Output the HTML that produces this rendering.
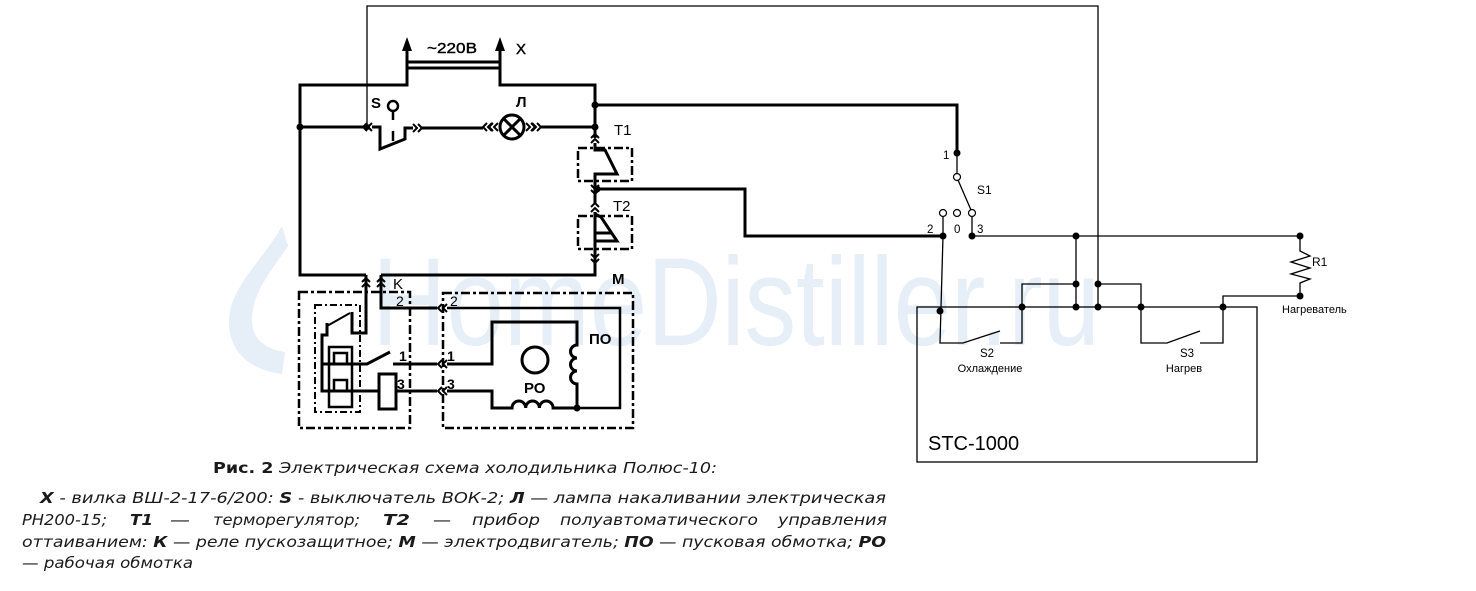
<!DOCTYPE html>
<html><head><meta charset="utf-8">
<style>html,body{margin:0;padding:0;background:#fff}svg{display:block}</style>
</head><body>
<svg width="1476" height="591" viewBox="0 0 1476 591" xmlns="http://www.w3.org/2000/svg">
<defs>
<g id="cu" fill="none" stroke="#000" stroke-width="2"><polyline points="-4,4 0,0 4,4"/><polyline points="-4,9 0,5 4,9"/></g>
<g id="cd" fill="none" stroke="#000" stroke-width="2"><polyline points="-4,-4 0,0 4,-4"/><polyline points="-4,-9 0,-5 4,-9"/></g>
<g id="cl" fill="none" stroke="#000" stroke-width="2"><polyline points="4,-4 0,0 4,4"/><polyline points="9,-4 5,0 9,4"/></g>
<g id="cr" fill="none" stroke="#000" stroke-width="2"><polyline points="-4,-4 0,0 -4,4"/><polyline points="-9,-4 -5,0 -9,4"/></g>
</defs>
<rect width="1476" height="591" fill="#fff"/>

<!-- watermark -->
<path d="M282,226 C262,262 229,287 229,322 C229,352 250,370 282,374 L285,352 C264,349 252,338 252,320 C252,292 272,270 288,246 Z" fill="#e6eef7"/>
<text x="372" y="345" font-family="Liberation Sans, sans-serif" font-size="125" fill="#e6eef7" textLength="728" lengthAdjust="spacingAndGlyphs">HomeDistiller.ru</text>

<!-- thick wiring -->
<g fill="none" stroke="#000" stroke-width="3" stroke-linejoin="miter">
  <path d="M407,48 V85 H300 V275 H366"/>
  <path d="M500,48 V85 H595 V138"/>
  <path d="M407,62 H500 M407,68 H500"/>
  <path d="M300,127 H363"/>
  <path d="M372,127 H380 V149 L405,139 V128 H413"/>
  <path d="M422,128 H483"/>
  <path d="M541,127 H595"/>
  <path d="M595,105 H957 V153"/>
  <path d="M595,143 V150 H605 L617,174 H595 V192"/>
  <path d="M595,189 H745 V236 H943"/>
  <path d="M595,189 V203"/>
  <path d="M595,212 V243 M595,214 L601,217 L617,241 H595 M595,233 H611"/>
  <path d="M595,243 V262 V275 H381"/>
  <!-- relay -->
  <path d="M366,275 V333 H352 V312"/>
  <path d="M381,275 V308 H437"/>
  <path d="M327,323 V335 H322 V391 H379"/>
  <path d="M322,364 H367 L390,352"/>
  <path d="M393,364 H437"/>
  <path d="M396,391 H437"/>
  <rect x="379" y="374" width="17" height="35" fill="#fff"/>
  <path d="M329,407 V347 H352 V407 Z" stroke-width="2.5"/>
  <path d="M334,364 V353 H347 V364 M334,391 V380 H347 V391" stroke-width="2.5"/>
  <!-- motor -->
  <path d="M447,308 H620 V408 H577" stroke-width="2.5"/>
  <path d="M447,364 H492 V322 H577 V345 a6.5,6.5 0 0 0 0,13 a6.5,6.5 0 0 0 0,13 a6.5,6.5 0 0 0 0,13 V408"/>
  <path d="M447,391 H492 V408 H512 a6.85,7 0 0 1 13.7,0 a6.85,7 0 0 1 13.7,0 a6.85,7 0 0 1 13.7,0 H577"/>
  <circle cx="535" cy="360" r="13"/>
  <!-- lamp -->
  <circle cx="512" cy="127" r="12" fill="#fff"/>
  <path d="M503.5,118.5 L520.5,135.5 M520.5,118.5 L503.5,135.5"/>
</g>
<g fill="none" stroke="#000" stroke-width="2.5">
  <circle cx="393" cy="106" r="5" fill="#fff"/>
  <path d="M393,111 V120 M393,131 V141"/>
  <path d="M327,326 L350,313" stroke-width="2"/>
</g>

<!-- connectors -->
<use href="#cl" x="363" y="127"/>
<use href="#cr" x="422" y="128"/>
<use href="#cl" x="483" y="127"/><use href="#cl" x="489" y="127"/>
<use href="#cr" x="535" y="127"/><use href="#cr" x="541" y="127"/>
<use href="#cu" x="595" y="134"/>
<use href="#cd" x="595" y="194"/>
<use href="#cu" x="595" y="203"/>
<use href="#cd" x="595" y="263"/>
<use href="#cu" x="366" y="278"/><use href="#cu" x="381" y="278"/>
<use href="#cl" x="438" y="308"/><use href="#cl" x="438" y="364"/><use href="#cl" x="438" y="391"/>

<!-- arrowheads -->
<polygon points="407,37 402,51 412,51" fill="#000"/>
<polygon points="500,37 495,51 505,51" fill="#000"/>

<!-- dash-dot boxes -->
<g fill="none" stroke="#000" stroke-width="2.5" stroke-dasharray="9,3,3,3">
  <rect x="578" y="148" width="54" height="33"/>
  <rect x="578" y="216" width="54" height="33"/>
  <rect x="299" y="292" width="111" height="136"/>
  <rect x="443" y="293" width="190" height="135"/>
  <rect x="315" y="305" width="45" height="107" stroke-width="2" stroke-dasharray="7,3,2,3"/>
</g>

<!-- dots left -->
<g fill="#000">
  <circle cx="300" cy="127" r="3.5"/>
  <circle cx="367" cy="127" r="3"/>
  <circle cx="595" cy="105" r="3.5"/>
  <circle cx="595" cy="127" r="3.5"/>
  <circle cx="597" cy="189" r="3.5"/>
  <circle cx="577" cy="408" r="3.5"/>
</g>

<!-- thin wiring -->
<g fill="none" stroke="#000" stroke-width="1.3">
  <path d="M367,127 V6 H1098 V307"/>
  <path d="M957,153 V174"/>
  <path d="M958,180 L971,210"/>
  <path d="M943,216 V236 M972,216 V236"/>
  <path d="M972,236 H1300"/>
  <path d="M943,236 L940,343 H963 L1000,331"/>
  <path d="M1000,343 H1022 V284 H1076"/>
  <path d="M1076,236 V307"/>
  <path d="M1098,284 H1141 V343 H1167 L1200,331"/>
  <path d="M1200,343 H1223 V296 H1300"/>
  <path d="M1300,236 V251 L1310,256 L1291,262 L1310,268 L1291,274 L1310,279 L1300,283 V296"/>
  <rect x="917" y="307" width="340" height="155"/>
</g>
<g fill="#fff" stroke="#000" stroke-width="1.2">
  <circle cx="957" cy="177" r="3.5"/>
  <circle cx="943" cy="213" r="3.5"/>
  <circle cx="957" cy="213" r="3.5"/>
  <circle cx="972" cy="213" r="3.5"/>
</g>
<g fill="#000">
  <circle cx="957" cy="153" r="3.5"/>
  <circle cx="943" cy="236" r="3.5"/>
  <circle cx="972" cy="236" r="3.5"/>
  <circle cx="940" cy="311" r="3.5"/>
  <circle cx="1022" cy="307" r="3.5"/>
  <circle cx="1076" cy="236" r="3.5"/>
  <circle cx="1076" cy="284" r="3.5"/>
  <circle cx="1076" cy="307" r="3.5"/>
  <circle cx="1098" cy="284" r="3.5"/>
  <circle cx="1098" cy="307" r="3.5"/>
  <circle cx="1141" cy="307" r="3.5"/>
  <circle cx="1223" cy="307" r="3.5"/>
  <circle cx="1300" cy="236" r="3.5"/>
  <circle cx="1300" cy="296" r="3.5"/>
</g>

<!-- left labels -->
<g font-family="Liberation Sans, Arial, sans-serif" font-size="14" fill="#000">
  <text x="427" y="53" font-size="15" textLength="50" lengthAdjust="spacingAndGlyphs" stroke="#000" stroke-width="0.4">~220B</text>
  <text x="516" y="54" font-size="15" stroke="#000" stroke-width="0.4">X</text>
  <text x="371" y="108" font-weight="bold" font-size="15">S</text>
  <text x="516" y="107" font-weight="bold" font-size="15">Л</text>
  <text x="614" y="135" font-size="15">T1</text>
  <text x="613" y="211" font-size="15">T2</text>
  <text x="612" y="284" font-weight="bold" font-size="15">M</text>
  <text x="393" y="289" font-size="15">K</text>
  <text x="396" y="306" font-size="14">2</text>
  <text x="450" y="306" font-size="14">2</text>
  <text x="399" y="361" font-weight="bold">1</text>
  <text x="447" y="361" font-weight="bold">1</text>
  <text x="397" y="389" font-weight="bold">3</text>
  <text x="447" y="389" font-weight="bold">3</text>
  <text x="589" y="344" font-weight="bold" font-size="15">ПО</text>
  <text x="524" y="393" font-weight="bold" font-size="15">РО</text>
</g>

<!-- right labels -->
<g font-family="Liberation Sans, Arial, sans-serif" font-size="11.5" fill="#000">
  <text x="943" y="159">1</text>
  <text x="977" y="194" font-size="12">S1</text>
  <text x="927" y="233">2</text>
  <text x="954" y="233">0</text>
  <text x="977" y="233">3</text>
  <text x="1312" y="266" font-size="12">R1</text>
  <text x="1282" y="313" font-size="11">Нагреватель</text>
  <text x="987" y="357" text-anchor="middle">S2</text>
  <text x="990" y="372" text-anchor="middle" font-size="11">Охлаждение</text>
  <text x="1187" y="357" text-anchor="middle">S3</text>
  <text x="1184" y="372" text-anchor="middle" font-size="11">Нагрев</text>
  <text x="928" y="450" font-size="20">STC-1000</text>
</g>

<!-- caption -->
<g font-family="DejaVu Sans, Verdana, sans-serif" font-size="15" fill="#1a1a1a">
  <text x="213" y="473" textLength="504" lengthAdjust="spacingAndGlyphs"><tspan font-weight="bold">Рис. 2</tspan><tspan font-style="italic"> Электрическая схема холодильника Полюс-10:</tspan></text>
  <text x="40" y="503" font-style="italic" textLength="846" lengthAdjust="spacingAndGlyphs"><tspan font-weight="bold">X</tspan> - вилка ВШ-2-17-6/200: <tspan font-weight="bold">S</tspan> - выключатель ВОК-2; <tspan font-weight="bold">Л</tspan> — лампа накаливании электрическая</text>
  <g font-style="italic">
    <text x="22" y="525" textLength="85" lengthAdjust="spacingAndGlyphs">РН200-15;</text>
    <text x="130" y="525" font-weight="bold" textLength="23" lengthAdjust="spacingAndGlyphs">T1</text>
    <text x="170" y="525" textLength="20" lengthAdjust="spacingAndGlyphs">—</text>
    <text x="213" y="525" textLength="147" lengthAdjust="spacingAndGlyphs">терморегулятор;</text>
    <text x="383" y="525" font-weight="bold" textLength="27" lengthAdjust="spacingAndGlyphs">T2</text>
    <text x="433" y="525" textLength="18" lengthAdjust="spacingAndGlyphs">—</text>
    <text x="472" y="525" textLength="68" lengthAdjust="spacingAndGlyphs">прибор</text>
    <text x="560" y="525" textLength="198" lengthAdjust="spacingAndGlyphs">полуавтоматического</text>
    <text x="778" y="525" textLength="109" lengthAdjust="spacingAndGlyphs">управления</text>
  </g>
  <text x="22" y="547" font-style="italic" textLength="864" lengthAdjust="spacingAndGlyphs">оттаиванием: <tspan font-weight="bold">К</tspan> — реле пускозащитное; <tspan font-weight="bold">М</tspan> — электродвигатель; <tspan font-weight="bold">ПО</tspan> — пусковая обмотка; <tspan font-weight="bold">РО</tspan></text>
  <text x="22" y="568" font-style="italic" textLength="171" lengthAdjust="spacingAndGlyphs">— рабочая обмотка</text>
</g>
</svg>
</body></html>
